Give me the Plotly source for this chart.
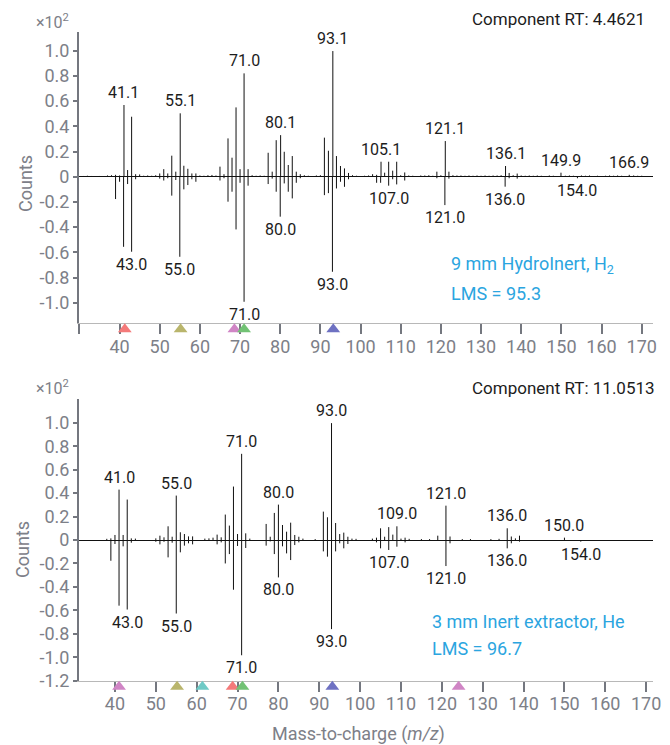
import plotly.graph_objects as go

# ---------------- Upper panel: 9 mm HydroInert, H2 ----------------
top_meas_mz = [31, 32, 33, 35, 37, 38, 39, 40, 41.1, 42, 43, 44, 45, 46, 47, 48, 49,
               50, 51, 52, 53, 54, 55.1, 56, 57, 58, 59, 60, 61, 62, 63, 64,
               65, 66, 67, 68, 69, 70, 71.0, 72, 73, 74, 75, 76,
               77, 78, 79, 80.1, 81, 82, 83, 84, 85, 86, 87, 89, 90,
               91, 92, 93.1, 94, 95, 96, 97, 98, 99, 101, 102, 103, 104,
               105.1, 106, 107, 108, 109, 110, 111, 112, 113, 115, 116, 117, 118, 119, 120,
               121.1, 122, 123, 124, 125, 126, 127, 128, 129, 130, 131, 132, 133, 134, 135,
               136.1, 137, 138, 139, 140, 141, 142, 143, 144, 145, 147, 148,
               149.9, 151, 152, 153, 155, 156, 157, 159, 161, 162, 163, 164, 165,
               166.9, 168, 169, 170]
top_meas_int = [0.006, 0.008, 0.006, 0.006, 0.010, 0.012, 0.015, 0.010, 0.569, 0.053, 0.476, 0.020, 0.018, 0.008, 0.010, 0.008, 0.012,
                0.026, 0.060, 0.026, 0.167, 0.040, 0.503, 0.087, 0.063, 0.026, 0.026, 0.010, 0.008, 0.012, 0.014, 0.010,
                0.080, 0.020, 0.304, 0.151, 0.550, 0.060, 0.820, 0.060, 0.012, 0.008, 0.010, 0.008,
                0.190, 0.040, 0.290, 0.330, 0.198, 0.093, 0.164, 0.040, 0.020, 0.012, 0.008, 0.010, 0.012,
                0.310, 0.206, 0.997, 0.164, 0.085, 0.066, 0.030, 0.012, 0.008, 0.008, 0.010, 0.020, 0.015,
                0.119, 0.032, 0.119, 0.048, 0.119, 0.012, 0.034, 0.010, 0.008, 0.010, 0.010, 0.012, 0.008, 0.040, 0.012,
                0.283, 0.040, 0.012, 0.010, 0.010, 0.008, 0.010, 0.008, 0.010, 0.008, 0.010, 0.008, 0.010, 0.010, 0.012,
                0.085, 0.030, 0.012, 0.025, 0.010, 0.008, 0.010, 0.008, 0.010, 0.008, 0.010, 0.008,
                0.032, 0.008, 0.010, 0.008, 0.010, 0.008, 0.010, 0.008, 0.008, 0.010, 0.008, 0.010, 0.008,
                0.015, 0.010, 0.008, 0.008]
top_lib_mz = [39, 40, 41, 42, 43.0, 44, 50, 51, 52, 53, 54, 55.0, 56, 57, 58, 59,
              65, 66, 67, 68, 69, 70, 71.0, 72, 77, 78, 79, 80.0, 81, 82, 83, 84, 85,
              91, 92, 93.0, 94, 95, 96, 97, 104, 105, 107.0, 108, 109, 111, 119,
              121.0, 122, 136.0, 137, 139, 154.0]
top_lib_int = [0.177, 0.040, 0.556, 0.058, 0.595, 0.020, 0.015, 0.030, 0.012, 0.150, 0.026, 0.635, 0.100, 0.066, 0.020, 0.040,
               0.030, 0.012, 0.198, 0.119, 0.418, 0.048, 0.992, 0.071, 0.058, 0.015, 0.119, 0.317, 0.053, 0.119, 0.172, 0.048, 0.012,
               0.146, 0.130, 0.754, 0.093, 0.040, 0.080, 0.020, 0.048, 0.048, 0.071, 0.020, 0.061, 0.030, 0.012,
               0.225, 0.015, 0.079, 0.012, 0.015, 0.012]
top_meas_labels = [41.1, 55.1, 71.0, 80.1, 93.1, 105.1, 121.1, 136.1, 149.9, 166.9]
top_lib_labels = [43.0, 55.0, 71.0, 80.0, 93.0, 107.0, 121.0, 136.0, 154.0]
top_flag_mz = [41.3, 55.2, 68.6, 71.0, 93.2]
top_flag_colors = ["#f47a7a", "#b9b56c", "#d085c5", "#72c274", "#6e71c2"]
top_rt = "Component RT: 4.4621"
top_name = "9 mm HydroInert, H<sub>2</sub>"
top_lms = "LMS = 95.3"

# ---------------- Lower panel: 3 mm Inert extractor, He ----------------
bot_meas_mz = [38, 39, 40, 41.0, 42, 43, 44, 45, 50, 51, 52, 53, 54, 55.0, 56, 57, 58, 59,
               62, 63, 64, 65, 66, 67, 68, 69, 70, 71.0, 72, 73,
               77, 78, 79, 80.0, 81, 82, 83, 84, 85, 86, 89,
               91, 92, 93.0, 94, 95, 96, 97, 98, 99, 103, 104,
               105, 106, 107, 108, 109.0, 110, 111, 112, 115, 117, 119,
               121.0, 122, 125, 127, 132, 134, 136.0, 137, 138, 139, 150.0]
bot_meas_int = [0.010, 0.014, 0.043, 0.430, 0.043, 0.345, 0.014, 0.012, 0.014, 0.037, 0.023, 0.117, 0.028, 0.379, 0.066, 0.051, 0.031, 0.031,
                0.012, 0.014, 0.020, 0.046, 0.023, 0.217, 0.123, 0.456, 0.051, 0.735, 0.057, 0.012,
                0.137, 0.028, 0.231, 0.302, 0.128, 0.071, 0.148, 0.043, 0.028, 0.012, 0.008,
                0.242, 0.194, 0.997, 0.145, 0.051, 0.063, 0.028, 0.012, 0.010, 0.012, 0.020,
                0.100, 0.028, 0.110, 0.046, 0.117, 0.012, 0.020, 0.010, 0.008, 0.008, 0.037,
                0.293, 0.030, 0.008, 0.008, 0.008, 0.010, 0.100, 0.030, 0.014, 0.037, 0.020]
bot_lib_mz = [39, 40, 41, 42, 43.0, 44, 50, 51, 52, 53, 54, 55.0, 56, 57, 58, 59,
              65, 66, 67, 68, 69, 70, 71.0, 72, 77, 78, 79, 80.0, 81, 82, 83, 84, 85,
              91, 92, 93.0, 94, 95, 96, 97, 104, 105, 107.0, 109, 111,
              121.0, 122, 136.0, 137, 139, 154.0]
bot_lib_int = [0.177, 0.034, 0.560, 0.054, 0.593, 0.023, 0.015, 0.037, 0.015, 0.148, 0.023, 0.627, 0.105, 0.048, 0.028, 0.037,
               0.037, 0.020, 0.200, 0.120, 0.424, 0.051, 0.983, 0.068, 0.048, 0.012, 0.120, 0.319, 0.054, 0.114, 0.171, 0.043, 0.020,
               0.097, 0.142, 0.760, 0.097, 0.028, 0.071, 0.034, 0.020, 0.071, 0.085, 0.057, 0.020,
               0.222, 0.028, 0.071, 0.028, 0.014, 0.014]
bot_meas_labels = [41.0, 55.0, 71.0, 80.0, 93.0, 109.0, 121.0, 136.0, 150.0]
bot_lib_labels = [43.0, 55.0, 71.0, 80.0, 93.0, 107.0, 121.0, 136.0, 154.0]
bot_flag_mz = [41.0, 55.2, 61.4, 68.8, 71.2, 93.2, 124.1]
bot_flag_colors = ["#d085c5", "#b9b56c", "#6fcac6", "#f47a7a", "#72c274", "#6e71c2", "#d085c5"]
bot_rt = "Component RT: 11.0513"
bot_name = "3 mm Inert extractor, He"
bot_lms = "LMS = 96.7"

# ---------------- axis ticks ----------------
x_tickvals = [40, 50, 60, 70, 80, 90, 100, 110, 120, 130, 140, 150, 160, 170]
x_ticktext = [str(v) for v in x_tickvals]
x_minor_ticks = [30]
top_yticks = [-1.0, -0.8, -0.6, -0.4, -0.2, 0, 0.2, 0.4, 0.6, 0.8, 1.0]
bot_yticks = [-1.2, -1.0, -0.8, -0.6, -0.4, -0.2, 0, 0.2, 0.4, 0.6, 0.8, 1.0]

# ---------------- geometry / style ----------------
W, H = 670, 745
FONT = "Roboto"
GREY = "#7d8088"
AXIS_GREY = "#74777f"
BLUE = "#2ba5df"
INK = "#1c1c1c"
FLAG_SIZE = 12
FLAG_STRIP_PX = 12

panels = [
    dict(xa="x", ya="y", xr=[29.9, 172.74], yr=[-1.163, 1.152], ydom=[0.566, 0.9577],
         meas=(top_meas_mz, top_meas_int), lib=(top_lib_mz, top_lib_int),
         meas_labels=top_meas_labels, lib_labels=top_lib_labels,
         flags=(top_flag_mz, top_flag_colors), yticks=top_yticks,
         rt=top_rt, name=top_name, lms=top_lms,
         rt_pos=(470, 19), name_pos=(449, 265), lms_pos=(449, 293),
         exp_pos=(52, 21), counts_pos=(25, 183)),
    dict(xa="x2", ya="y2", xr=[31.2, 171.6], yr=[-1.2, 1.2], ydom=[0.0863, 0.464],
         meas=(bot_meas_mz, bot_meas_int), lib=(bot_lib_mz, bot_lib_int),
         meas_labels=bot_meas_labels, lib_labels=bot_lib_labels,
         flags=(bot_flag_mz, bot_flag_colors), yticks=bot_yticks,
         rt=bot_rt, name=bot_name, lms=bot_lms,
         rt_pos=(470, 388), name_pos=(430, 621), lms_pos=(430, 648),
         exp_pos=(52, 387), counts_pos=(22, 550)),
]
XDOM = [79 / W, 652.7 / W]


def stems(mz, vals, sign):
    xs, ys = [], []
    for m, v in zip(mz, vals):
        xs += [m, m, None]
        ys += [0, sign * v, None]
    return xs, ys


def fmt_tick(v):
    return "0" if v == 0 else f"{v:.1f}"


def paper(px, py):
    return px / W, 1 - py / H


fig = go.Figure()
annotations = []

for i, p in enumerate(panels):
    for (mz, vals), sign in ((p["meas"], 1), (p["lib"], -1)):
        xs, ys = stems(mz, vals, sign)
        fig.add_trace(go.Scatter(x=xs, y=ys, mode="lines", xaxis=p["xa"], yaxis=p["ya"],
                                 line=dict(color="#111111", width=1), hoverinfo="skip",
                                 showlegend=False))

    # thin strip just under the m/z axis line that carries the component flags
    strip_key = "yaxis" + str(i + 3)
    strip_ref = "y" + str(i + 3)
    strip_top = p["ydom"][0]
    strip_bot = strip_top - FLAG_STRIP_PX / H
    fig.layout[strip_key] = dict(domain=[strip_bot, strip_top], range=[0, FLAG_STRIP_PX],
                                 visible=False, fixedrange=True, anchor=p["xa"])
    fmz, fcol = p["flags"]
    fig.add_trace(go.Scatter(x=fmz, y=[FLAG_STRIP_PX - FLAG_SIZE / 2] * len(fmz),
                             mode="markers", xaxis=p["xa"], yaxis=strip_ref, cliponaxis=False,
                             marker=dict(symbol="triangle-up", size=FLAG_SIZE, color=fcol,
                                         line=dict(width=0)),
                             hoverinfo="skip", showlegend=False))

    # peak m/z labels
    meas_lookup = dict(zip(*p["meas"]))
    lib_lookup = dict(zip(*p["lib"]))
    for m in p["meas_labels"]:
        annotations.append(dict(x=m, y=meas_lookup[m], xref=p["xa"], yref=p["ya"],
                                text=f"{m:.1f}", showarrow=False, yanchor="bottom",
                                yshift=1, font=dict(family=FONT, size=16, color=INK)))
    for m in p["lib_labels"]:
        annotations.append(dict(x=m, y=-lib_lookup[m], xref=p["xa"], yref=p["ya"],
                                text=f"{m:.1f}", showarrow=False, yanchor="top",
                                yshift=-1, font=dict(family=FONT, size=16, color=INK)))

    x0, y0 = paper(*p["rt_pos"])
    annotations.append(dict(x=x0, y=y0, xref="paper", yref="paper", text=p["rt"],
                            showarrow=False, xanchor="left", yanchor="middle",
                            font=dict(family=FONT, size=17, color=INK)))
    x0, y0 = paper(*p["name_pos"])
    annotations.append(dict(x=x0, y=y0, xref="paper", yref="paper", text=p["name"],
                            showarrow=False, xanchor="left", yanchor="middle",
                            font=dict(family=FONT, size=18, color=BLUE)))
    x0, y0 = paper(*p["lms_pos"])
    annotations.append(dict(x=x0, y=y0, xref="paper", yref="paper", text=p["lms"],
                            showarrow=False, xanchor="left", yanchor="middle",
                            font=dict(family=FONT, size=18, color=BLUE)))
    x0, y0 = paper(*p["exp_pos"])
    annotations.append(dict(x=x0, y=y0, xref="paper", yref="paper", text="×10<sup>2</sup>",
                            showarrow=False, xanchor="center", yanchor="middle",
                            font=dict(family=FONT, size=16, color=GREY)))
    x0, y0 = paper(*p["counts_pos"])
    annotations.append(dict(x=x0, y=y0, xref="paper", yref="paper", text="Counts",
                            showarrow=False, xanchor="center", yanchor="middle",
                            textangle=-90, font=dict(family=FONT, size=18, color=GREY)))

    axis_x = dict(domain=XDOM, range=p["xr"], showgrid=False, zeroline=False,
                  showline=True, linecolor="#b8b8b8", linewidth=1,
                  ticks="outside", ticklen=10, tickwidth=2, tickcolor=AXIS_GREY,
                  tickmode="array", tickvals=x_tickvals, ticktext=x_ticktext,
                  ticklabelstandoff=-3,
                  minor=dict(tickmode="array", tickvals=x_minor_ticks, ticks="outside",
                             ticklen=10, tickwidth=2, tickcolor=AXIS_GREY, showgrid=False),
                  tickfont=dict(family=FONT, size=18, color=GREY),
                  anchor=p["ya"])
    axis_y = dict(domain=p["ydom"], range=p["yr"], showgrid=False,
                  zeroline=True, zerolinecolor="#111111", zerolinewidth=1,
                  showline=True, linecolor=AXIS_GREY, linewidth=2,
                  ticks="outside", ticklen=4, tickwidth=1.5, tickcolor=AXIS_GREY,
                  tickmode="array", tickvals=p["yticks"],
                  ticktext=[fmt_tick(v) for v in p["yticks"]],
                  tickfont=dict(family=FONT, size=18, color=GREY),
                  anchor=p["xa"])
    key = "" if i == 0 else str(i + 1)
    fig.layout["xaxis" + key] = axis_x
    fig.layout["yaxis" + key] = axis_y

annotations.append(dict(x=358 / W, y=1 - 734 / H, xref="paper", yref="paper",
                        text="Mass-to-charge (<i>m/z</i>)", showarrow=False,
                        xanchor="center", yanchor="middle",
                        font=dict(family=FONT, size=18, color=GREY)))

fig.update_layout(width=W, height=H, autosize=False,
                  margin=dict(l=0, r=0, t=0, b=0, autoexpand=False),
                  paper_bgcolor="white", plot_bgcolor="white",
                  font=dict(family=FONT), annotations=annotations,
                  showlegend=False)

page_css = ("document.documentElement.style.margin='0';"
            "document.documentElement.style.overflow='hidden';"
            "document.body.style.margin='0';"
            "document.body.style.overflow='hidden';")
fig.write_html("out.html", post_script=page_css)
